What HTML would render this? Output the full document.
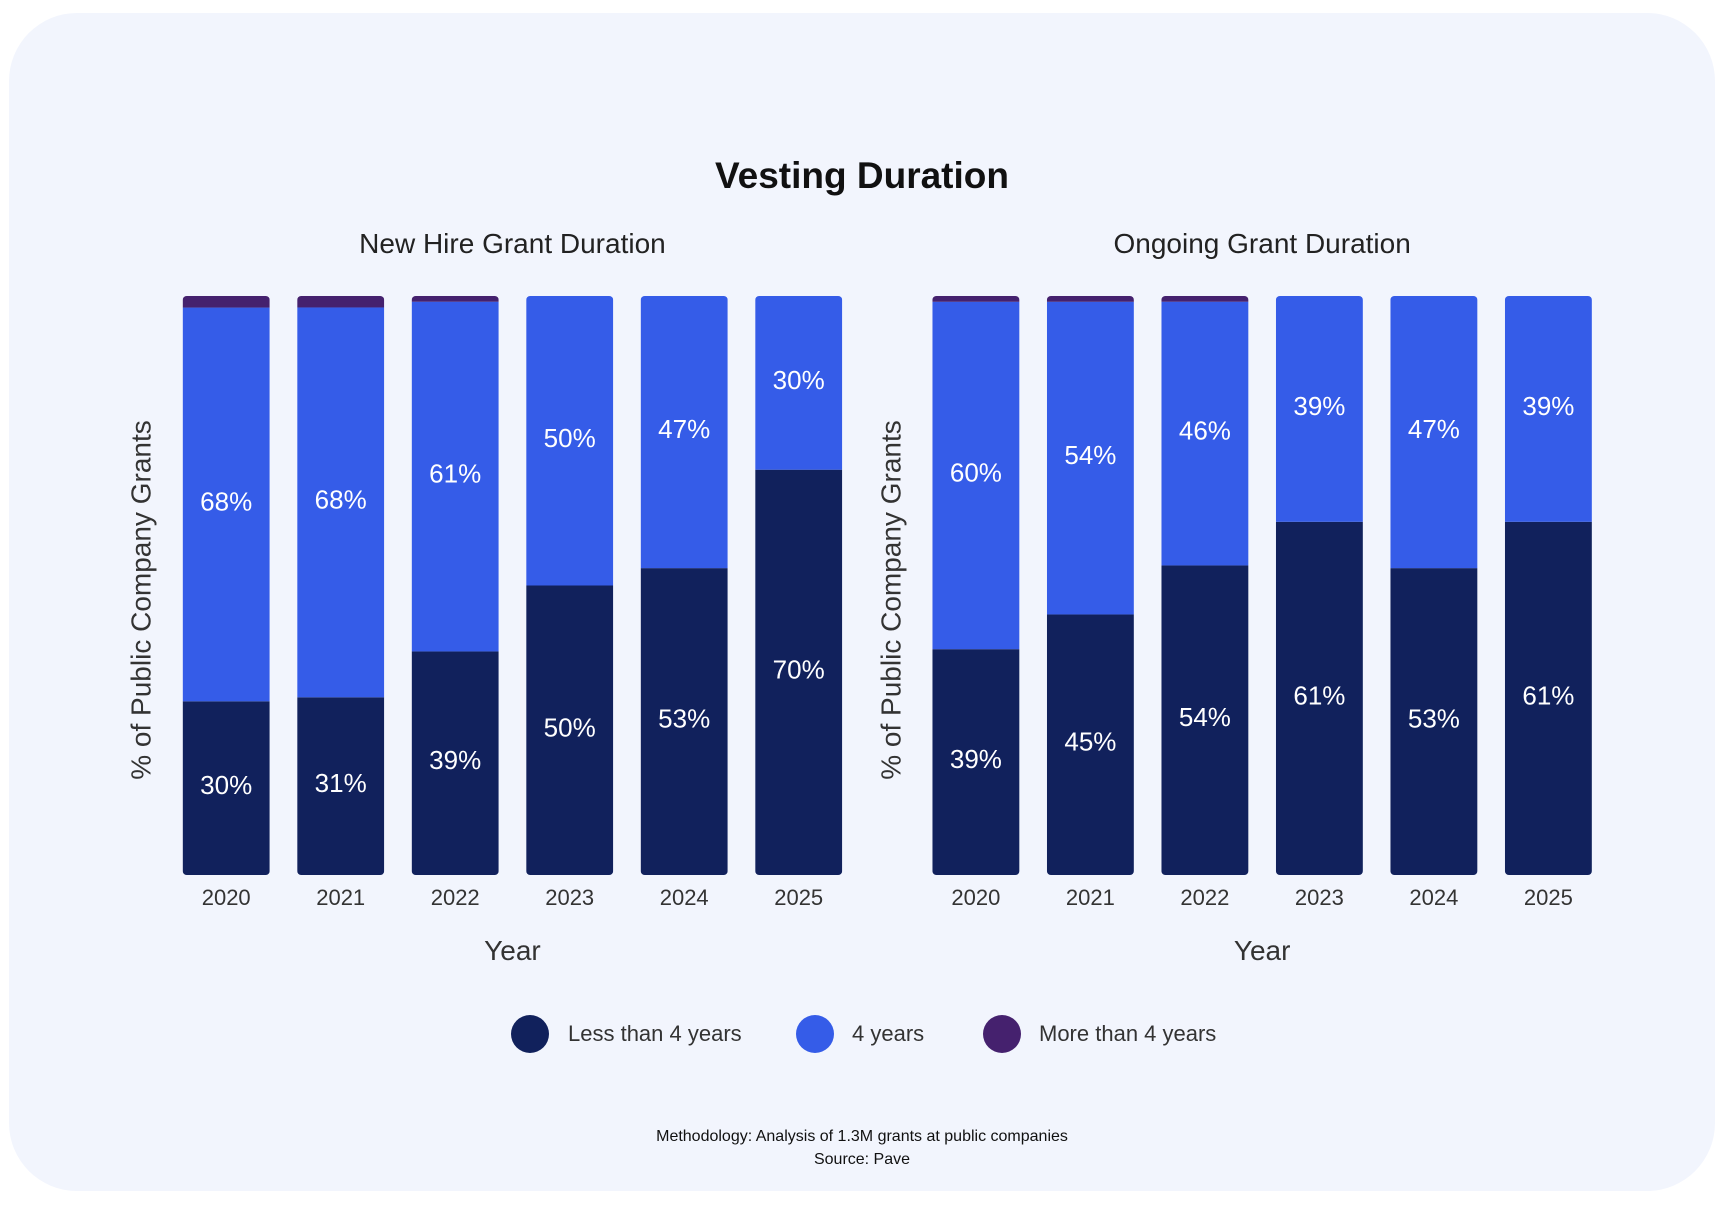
<!DOCTYPE html>
<html><head><meta charset="utf-8"><style>
body{margin:0;background:#fff;width:1726px;height:1204px;overflow:hidden;font-family:"Liberation Sans",sans-serif}
</style></head><body>
<svg id="chart" width="1726" height="1204" xmlns="http://www.w3.org/2000/svg">
<rect x="9" y="13" width="1706" height="1178" rx="68" fill="#f2f5fd"/>
<text x="862" y="188" text-anchor="middle" font-size="37" font-weight="bold" fill="#111">Vesting Duration</text>
<g id="panels"></g>
<g>
<circle cx="530" cy="1034" r="19" fill="#11215c"/>
<text x="568" y="1041" font-size="22" fill="#333">Less than 4 years</text>
<circle cx="815" cy="1034" r="19" fill="#355ce8"/>
<text x="852" y="1041" font-size="22" fill="#333">4 years</text>
<circle cx="1002" cy="1034" r="19" fill="#45216e"/>
<text x="1039" y="1041" font-size="22" fill="#333">More than 4 years</text>
</g>
<text x="862" y="1141" text-anchor="middle" font-size="16" fill="#111">Methodology: Analysis of 1.3M grants at public companies</text>
<text x="862" y="1164" text-anchor="middle" font-size="16" fill="#111">Source: Pave</text>
</svg>
<script>
const years=["2020","2021","2022","2023","2024","2025"];
const newLess=[30,31,39,50,53,70];
const newFour=[68,68,61,50,47,30];
const newMore=[2,2,1,0,0,0];
const ongLess=[39,45,54,61,53,61];
const ongFour=[60,54,46,39,47,39];
const ongMore=[1,1,1,0,0,0];
const NS="http://www.w3.org/2000/svg";
const g=document.getElementById('panels');
function el(t,a,txt){const e=document.createElementNS(NS,t);for(const k in a)e.setAttribute(k,a[k]);if(txt!==undefined)e.textContent=txt;return e;}
const top0=296,bot=875,H=bot-top0;
function panel(key,x0,title,less,four,more){
  const cx=x0+43.5+2.5*114.5;
  const t=el('text',{x:cx,y:253,'text-anchor':'middle','font-size':28,fill:'#222'},title);
  
  
  g.appendChild(t);
  const yt=el('text',{x:0,y:0,'text-anchor':'middle','font-size':28,fill:'#333',transform:`translate(${x0-32},600) rotate(-90)`},'% of Public Company Grants');
  
  
  g.appendChild(yt);
  const xt=el('text',{x:cx,y:960,'text-anchor':'middle','font-size':28,fill:'#333'},'Year');
  
  
  g.appendChild(xt);
  years.forEach((yr,i)=>{
    const x=x0+i*114.5,w=87;
    const tot=less[i]+four[i]+more[i];
    const y=v=>bot-v/tot*H;
    const segs=[[less[i],0,'#11215c','less'],[four[i],less[i],'#355ce8','4yr'],[more[i],less[i]+four[i],'#45216e','more']];
    const clip=el('clipPath',{id:key+'c'+i});
    clip.appendChild(el('rect',{x:x,y:top0,width:w,height:H,rx:4}));
    g.appendChild(clip);
    const grp=el('g',{'clip-path':`url(#${key}c${i})`});
    
    
    segs.forEach(s=>{
      if(s[0]<=0)return;
      const r=el('rect',{x:x,y:y(s[0]+s[1]),width:w,height:s[0]/tot*H,fill:s[2]});
      
      
      grp.appendChild(r);
    });
    g.appendChild(grp);
    [[less[i],0,'less'],[four[i],less[i],'4yr']].forEach(s=>{
      const lt=el('text',{x:x+w/2,y:y(s[1]+s[0]/2)+6,'text-anchor':'middle','font-size':26,fill:'#fff'},s[0]+'%');
      
      
      g.appendChild(lt);
    });
    const tk=el('text',{x:x+w/2,y:905,'text-anchor':'middle','font-size':22,fill:'#333'},yr);
    
    
    g.appendChild(tk);
  });
}
panel('new-hire',182.7,'New Hire Grant Duration',newLess,newFour,newMore);
panel('ongoing',932.4,'Ongoing Grant Duration',ongLess,ongFour,ongMore);
</script>
</body></html>
